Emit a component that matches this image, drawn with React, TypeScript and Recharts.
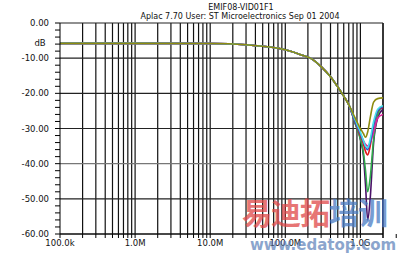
import React from 'react';
import { LineChart, Line, XAxis, YAxis, ReferenceLine, Text } from 'recharts';

// frequency points (Hz) shared by all traces
const freqs = [1e5, 1e6, 1e7, 3e7, 1e8, 1.6e8, 2.4e8, 3e8, 4e8, 5e8, 6e8, 7e8, 8.5e8, 1e9, 1.1e9, 1.17e9, 1.25e9, 1.35e9, 1.5e9, 1.7e9, 2e9];

// insertion loss traces (dB), common roll-off then spread near the notch
const common = [-5.8, -5.8, -5.85, -6.2, -7.6, -9.0, -10.6, -12.4, -15.3, -18.2, -20.8, -23.2];
const olive = [...common, -27, -30, -31.5, -32.5, -31, -27, -22.5, -21.5, -21.3];
const cyan = [...common, -27.5, -31, -33.5, -35, -35.5, -33, -28, -24.5, -23.5, -23];
const magenta = [...common, -28, -31.5, -33.5, -34.5, -35, -34, -31, -27, -26, -25.5];
const red = [...common, -28, -32, -34.5, -36.5, -37.5, -35, -29, -25, -24, -23.8];
const green = [...common, -28.5, -33, -37, -42, -48, -44, -33, -26, -23.5, -22.8];
const purple = [...common, -28.5, -33, -38, -46, -56, -50, -34, -27, -24.5, -24];
const blue = [...common, -28, -31.5, -33.8, -35.2, -36, -34, -29, -25, -23.8, -23.3];

const decades = [1e5, 1e6, 1e7, 1e8, 1e9];
const decadeLabels = ['100.0k', '1.0M', '10.0M', '100.0M', '1.0G'];
const xTicks = [...decades.flatMap(d => [1, 2, 3, 4, 5, 6, 7, 8, 9].map(m => m * d)), 2e9];
const yMajor = [0, -10, -20, -30, -40, -50, -60];
const yMinor = [0, -2, -4, -6, -8, -10, -12, -14, -16, -18, -20, -22, -24, -26, -28, -30, -32, -34, -36, -38, -40, -42, -44, -46, -48, -50, -52, -54, -56, -58, -60];

const data = freqs.map((f, i) => ({
  f,
  olive: olive[i],
  cyan: cyan[i],
  magenta: magenta[i],
  red: red[i],
  green: green[i],
  purple: purple[i],
  blue: blue[i],
}));

const font = 'DejaVu Sans, Verdana, sans-serif';

const fmtX = (v: number) => {
  const i = decades.indexOf(v);
  return i >= 0 ? decadeLabels[i] : '';
};
const fmtY = (v: number) => (v % 10 === 0 ? v.toFixed(2) : '');

const series: [string, string][] = [
  ['purple', '#4a1268'],
  ['green', '#2fa84a'],
  ['red', '#e01818'],
  ['magenta', '#e0209a'],
  ['blue', '#2a50c8'],
  ['cyan', '#48e0e8'],
  ['olive', '#8e8c10'],
];

export default function App() {
  return (
    <div style={{ position: 'fixed', left: 0, top: 0, width: 400, height: 257, background: '#fff', overflow: 'hidden' }}>
      <LineChart width={400} height={257} data={data} margin={{ top: 23, right: 17, left: 0, bottom: 0 }}>
        <XAxis
          dataKey="f"
          type="number"
          scale="log"
          domain={[1e5, 2e9]}
          allowDataOverflow
          ticks={xTicks}
          interval={0}
          tickFormatter={fmtX}
          height={23}
          tickSize={4}
          tickMargin={2}
          stroke="#000"
          tick={{ fontSize: 8.5, fill: '#111', fontFamily: font }}
        />
        <YAxis
          type="number"
          domain={[-60, 0]}
          ticks={yMinor}
          interval={0}
          tickFormatter={fmtY}
          width={60}
          tickSize={5}
          tickMargin={6}
          stroke="#000"
          tick={{ fontSize: 8.5, fill: '#111', fontFamily: font }}
        />
        {xTicks.slice(1).map(v => (
          <ReferenceLine key={'x' + v} x={v} stroke="#111" strokeWidth={1.2} />
        ))}
        {yMajor.map(v => (
          <ReferenceLine key={'y' + v} y={v} stroke={v === -40 ? '#777' : '#222'} strokeWidth={1.2} />
        ))}
        {series.map(([k, c]) => (
          <Line key={k} dataKey={k} type="monotone" stroke={c} strokeWidth={1.6} dot={false} isAnimationActive={false} />
        ))}
        <Text x={241} y={10} textAnchor="middle" fontSize={8} fontFamily={font} fill="#111">EMIF08-VID01F1</Text>
        <Text x={240} y={19} textAnchor="middle" fontSize={8} fontFamily={font} fill="#111">Aplac 7.70 User: ST Microelectronics  Sep 01 2004</Text>
        <Text x={40} y={46} textAnchor="middle" fontSize={8.5} fontFamily={font} fill="#111">dB</Text>
      </LineChart>
      <div style={{ position: 'absolute', left: 242, top: 194, fontSize: 30, fontWeight: 'bold', fontFamily: '"Noto Sans CJK SC"', opacity: 0.75, letterSpacing: -1, lineHeight: '34px' }}>
        <span style={{ color: '#e04848' }}>易迪拓</span>
        <span style={{ color: '#4a7cc4' }}>培训</span>
      </div>
      <div style={{ position: 'absolute', left: 250, top: 236, fontSize: 15, fontWeight: 'bold', fontFamily: font, color: '#5b7fb8', opacity: 0.7, lineHeight: '18px' }}>
        www.edatop.com
      </div>
    </div>
  );
}
